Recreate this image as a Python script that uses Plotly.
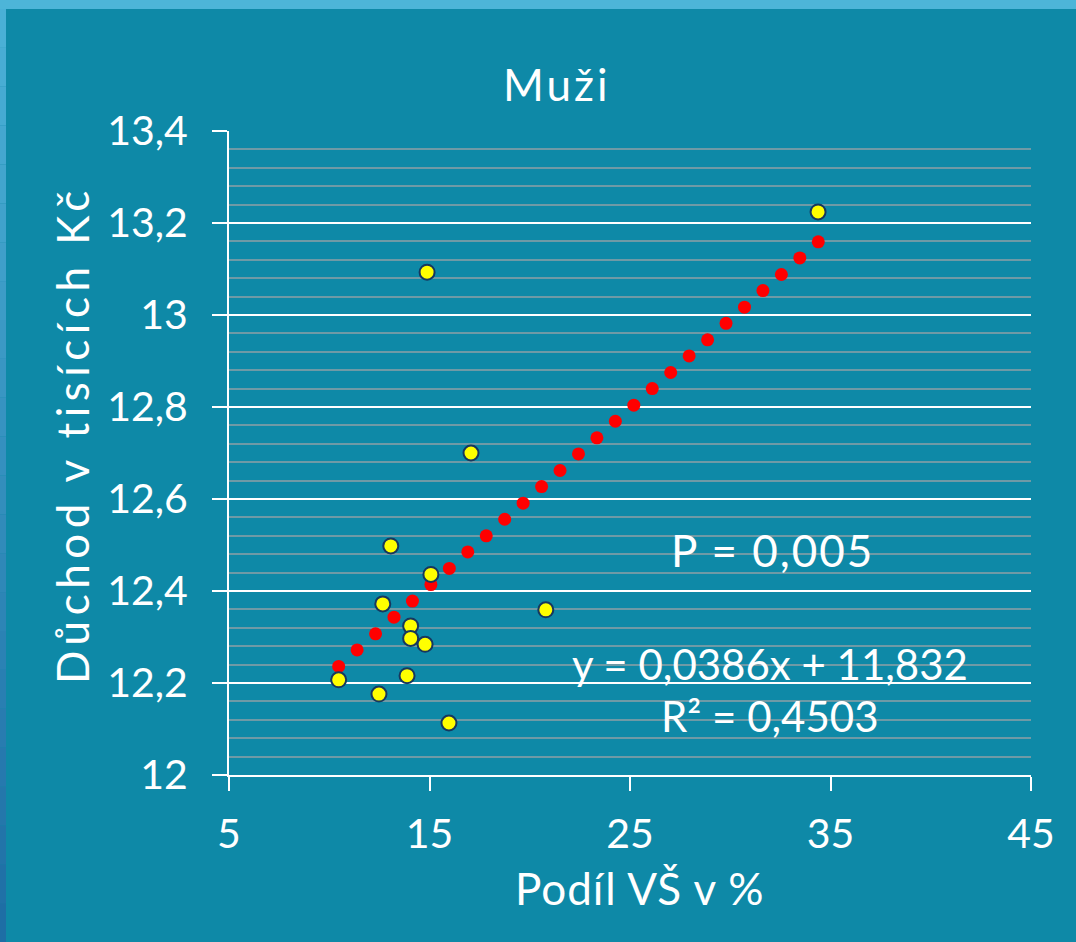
import plotly.graph_objects as go

# Observed data (yellow points)
podil_vs = [34.38, 14.88, 17.07, 13.07, 15.07, 12.67, 14.06, 14.06, 14.78, 13.88, 10.47, 12.48, 15.97, 20.80]
duchod = [13.224, 13.093, 12.700, 12.498, 12.436, 12.372, 12.324, 12.297, 12.284, 12.216, 12.207, 12.176, 12.113, 12.359]

# Trend points (red)
trend_x = [10.47, 11.39, 12.31, 13.23, 14.15, 15.07, 15.99, 16.91, 17.83, 18.75, 19.67, 20.59, 21.51, 22.43,
           23.35, 24.27, 25.19, 26.11, 27.03, 27.95, 28.87, 29.79, 30.71, 31.63, 32.55, 33.47, 34.39]
trend_y = [12.236, 12.272, 12.307, 12.343, 12.378, 12.414, 12.449, 12.485, 12.520, 12.556, 12.591, 12.627,
           12.662, 12.698, 12.733, 12.769, 12.804, 12.840, 12.875, 12.911, 12.946, 12.982, 13.017, 13.053,
           13.088, 13.124, 13.159]

x_ticks = [5, 15, 25, 35, 45]
y_ticks = [12, 12.2, 12.4, 12.6, 12.8, 13, 13.2, 13.4]
y_tick_labels = ["12", "12,2", "12,4", "12,6", "12,8", "13", "13,2", "13,4"]

title = "Muži"
x_title = "Podíl VŠ v %"
y_title = "Důchod v tisících Kč"
p_text = "P = 0,005"
eq_text = "y = 0,0386x + 11,832"
r2_text = "R² = 0,4503"

BG = "#0E89A7"
FONT = "Lato"
FS = 41
W, H = 1076, 942
L, R, T, B = 229, 45, 131, 167
pw, ph = W - L - R, H - T - B

def px(xp):
    return (xp - L) / pw

def py(yp):
    return (H - B - yp) / ph

fig = go.Figure()
fig.add_trace(go.Scatter(x=trend_x, y=trend_y, mode="markers",
                         marker=dict(color="#FF0000", size=13, line=dict(width=0)),
                         showlegend=False, hoverinfo="skip"))
fig.add_trace(go.Scatter(x=podil_vs, y=duchod, mode="markers",
                         marker=dict(color="#FFFF00", size=15, line=dict(color="#17375E", width=2)),
                         showlegend=False))

shapes = []
# top light strip
shapes.append(dict(type="rect", xref="paper", yref="paper", x0=px(0), x1=px(W), y0=py(9), y1=py(0),
                   fillcolor="#4DB5D8", line=dict(width=0), layer="below"))
# left gradient strip
n = 24
c_top = (74, 176, 214)
c_bot = (30, 110, 165)
for i in range(n):
    t = i / (n - 1)
    c = tuple(int(round(c_top[k] + (c_bot[k] - c_top[k]) * t)) for k in range(3))
    y0p = 9 + (H - 9) * i / n
    y1p = 9 + (H - 9) * (i + 1) / n
    shapes.append(dict(type="rect", xref="paper", yref="paper", x0=px(0), x1=px(6),
                       y0=py(y1p), y1=py(y0p),
                       fillcolor="rgb(%d,%d,%d)" % c, line=dict(width=0), layer="below"))

def ann(text, x, y, size, spacing=0, angle=0):
    if spacing:
        text = '<span style="letter-spacing:%gpx">%s</span>' % (spacing, text)
    return dict(text=text, x=px(x), y=py(y), xref="paper", yref="paper", showarrow=False, textangle=angle,
                font=dict(size=size, color="white", family=FONT),
                xanchor="center", yanchor="middle")

anns = [
    ann(title, 556, 84, 44, spacing=3),
    ann(x_title, 640, 888, 44, spacing=1),
    ann(y_title, 72, 435, 44, spacing=5.5, angle=-90),
    ann(p_text, 772, 550, 44, spacing=2),
    ann(eq_text, 770, 664, 42),
    ann(r2_text, 770, 716, 42),
]

fig.update_layout(
    width=W, height=H,
    margin=dict(l=L, r=R, t=T, b=B, pad=0),
    paper_bgcolor=BG, plot_bgcolor=BG,
    shapes=shapes, annotations=anns,
    font=dict(family=FONT, color="white", size=FS),
    xaxis=dict(range=[5, 45], tickvals=x_ticks, ticktext=[str(v) for v in x_ticks],
               showgrid=False, zeroline=False, showline=True, linecolor="white", linewidth=2,
               ticks="outside", ticklen=14, tickwidth=2, tickcolor="white", ticklabelstandoff=8,
               tickfont=dict(size=FS, color="white", family=FONT)),
    yaxis=dict(range=[12, 13.4], tickvals=y_ticks, ticktext=y_tick_labels,
               showgrid=True, gridcolor="white", gridwidth=2, zeroline=False,
               showline=True, linecolor="white", linewidth=2,
               ticks="outside", ticklen=15, tickwidth=2, tickcolor="white",
               tickfont=dict(size=FS, color="white", family=FONT), ticklabelstandoff=16,
               minor=dict(dtick=0.04, tick0=12, showgrid=True, gridcolor="#6E9AA6", gridwidth=2, ticks="")),
)

fig.write_html("out.html", config={"displayModeBar": False},
               post_script="document.body.style.margin='0';document.body.style.padding='0';"
                           "document.documentElement.style.margin='0';")
